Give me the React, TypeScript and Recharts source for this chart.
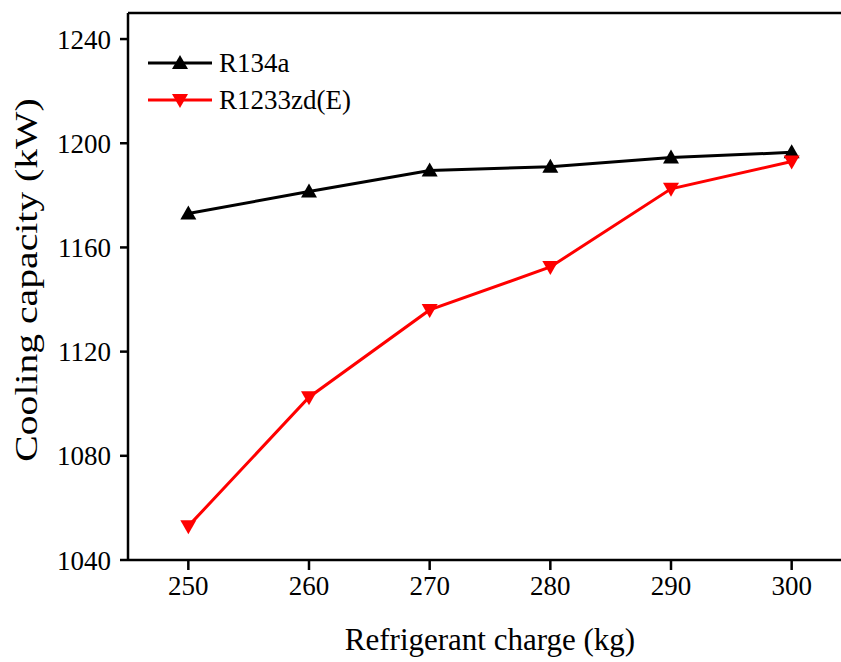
import React from 'react';
import { LineChart, Line, XAxis, YAxis, ReferenceLine } from 'recharts';

const charges = [250, 260, 270, 280, 290, 300];
const r134a = [1173, 1181.5, 1189.5, 1191, 1194.5, 1196.5];
const r1233 = [1053, 1102.5, 1136, 1152.5, 1182.5, 1193];
const yTicks = [1040, 1080, 1120, 1160, 1200, 1240];
const xTicks = [250, 260, 270, 280, 290, 300];
const seriesNames = ['R134a', 'R1233zd(E)'];

const data = charges.map((c, i) => ({ x: c, a: r134a[i], b: r1233[i] }));
const FONT = '"Liberation Serif", "Times New Roman", serif';

const Up = (props: any) => {
  const { cx, cy, fill } = props;
  if (cx == null || cy == null) return null;
  const s = 8;
  return <path d={`M${cx},${cy - s} L${cx + s},${cy + s * 0.75} L${cx - s},${cy + s * 0.75} Z`} fill={fill} />;
};
const Down = (props: any) => {
  const { cx, cy, fill } = props;
  if (cx == null || cy == null) return null;
  const s = 8;
  return <path d={`M${cx},${cy + s} L${cx + s},${cy - s * 0.75} L${cx - s},${cy - s * 0.75} Z`} fill={fill} />;
};

const LegendBox = () => (
  <svg width={841} height={662} style={{ position: 'absolute', left: 0, top: 0, pointerEvents: 'none' }}>
    <line x1={148} x2={212} y1={63} y2={63} stroke="#000" strokeWidth={3} />
    <Up cx={180} cy={63} fill="#000" />
    <text x={219} y={72} fontFamily={FONT} fontSize={27} fill="#000">{seriesNames[0]}</text>
    <line x1={148} x2={212} y1={100} y2={100} stroke="#ff0000" strokeWidth={3} />
    <Down cx={180} cy={100} fill="#ff0000" />
    <text x={219} y={109} fontFamily={FONT} fontSize={27} fill="#000">{seriesNames[1]}</text>
  </svg>
);

export default function App() {
  return (
    <div style={{ position: 'absolute', left: 0, top: 0, width: 841, height: 662, overflow: 'hidden', background: '#fff' }}>
      <LineChart width={860} height={662} data={data} margin={{ top: 13, right: 8, bottom: 0, left: 0 }}>
        <XAxis
          dataKey="x"
          type="number"
          domain={[245, 305]}
          ticks={xTicks}
          height={102}
          tickSize={10}
          tickMargin={6}
          stroke="#000"
          strokeWidth={2.5}
          tick={{ fill: '#000', fontFamily: FONT, fontSize: 27 }}
          label={{
            content: () => (
              <text x={490} y={650} textAnchor="middle" fontFamily={FONT} fontSize={31} fill="#000">
                Refrigerant charge (kg)
              </text>
            ),
          }}
        />
        <YAxis
          type="number"
          domain={[1040, 1250]}
          ticks={yTicks}
          width={128}
          tickSize={8}
          tickMargin={9}
          stroke="#000"
          strokeWidth={2.5}
          tick={{ fill: '#000', fontFamily: FONT, fontSize: 27 }}
          label={{
            content: () => (
              <text x={0} y={0} transform="translate(37,280) rotate(-90) scale(1.28,1)" textAnchor="middle" fontFamily={FONT} fontSize={31} fill="#000">
                Cooling capacity (kW)
              </text>
            ),
          }}
        />
        <ReferenceLine y={1250} stroke="#000" strokeWidth={2.5} />
        <Line dataKey="a" name={seriesNames[0]} stroke="#000" strokeWidth={3} fill="#000" dot={<Up fill="#000" />} isAnimationActive={false} />
        <Line dataKey="b" name={seriesNames[1]} stroke="#ff0000" strokeWidth={3} fill="#ff0000" dot={<Down fill="#ff0000" />} isAnimationActive={false} />
      </LineChart>
      <LegendBox />
    </div>
  );
}
